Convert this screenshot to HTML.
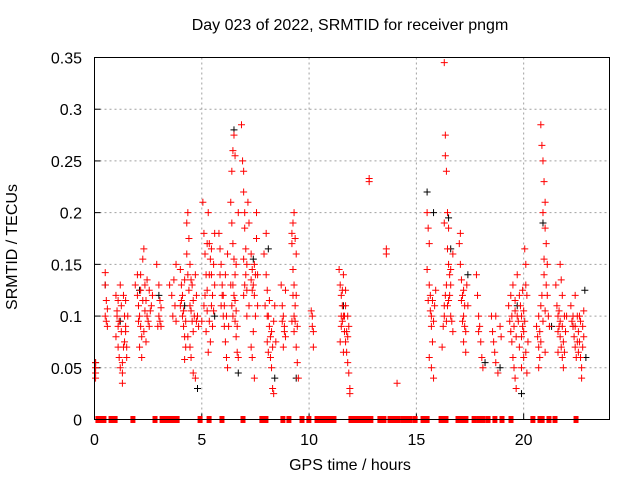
<!DOCTYPE html>
<html><head><meta charset="utf-8"><style>
body{margin:0;background:#fff;}
svg{display:block;font-family:"Liberation Sans",sans-serif;}
</style></head><body>
<svg id="chart" width="640" height="480" viewBox="0 0 640 480"></svg>
<script>
const xTicks=[0,5,10,15,20];
const yTicks=[0,0.05,0.1,0.15,0.2,0.25,0.3,0.35];
const yTickLabels=["0","0.05","0.1","0.15","0.2","0.25","0.3","0.35"];
const redPts=[
[0.05,0.045],[0.05,0.05],[0.05,0.055],[0.05,0.04],[0.5,0.142],[0.5,0.13],[0.5,0.1],[0.55,0.095],[0.6,0.09],[0.55,0.115],[0.6,0.107],
[1.0,0.12],[1.05,0.1],[1.1,0.09],[1.0,0.08],[1.1,0.07],[1.15,0.06],[1.2,0.05],[1.3,0.045],[1.3,0.035],[1.25,0.11],[1.35,0.12],[1.4,0.1],[1.45,0.085],[1.5,0.07],[1.5,0.06],[1.4,0.075],[1.45,0.09],[1.2,0.13],[1.1,0.115],
[1.9,0.13],[2.0,0.12],[2.05,0.11],[2.1,0.1],[2.15,0.09],[2.2,0.08],[2.1,0.07],[2.0,0.14],[2.25,0.155],[2.3,0.165],[2.35,0.13],[2.4,0.115],[2.45,0.1],[2.5,0.095],[2.3,0.085],[2.4,0.075],[2.2,0.06],[2.55,0.125],[2.6,0.105],[2.7,0.12],
[2.9,0.15],[3.0,0.13],[3.05,0.115],[3.0,0.1],[2.95,0.09],[3.1,0.108],[3.6,0.12],[3.7,0.135],[3.8,0.15],[3.75,0.11],[3.65,0.1],[3.8,0.095],[3.5,0.13],
[4.0,0.145],[4.05,0.13],[4.1,0.12],[4.1,0.1],[4.15,0.09],[4.2,0.08],[4.25,0.07],[4.0,0.11],[4.3,0.19],[4.35,0.2],[4.4,0.175],[4.3,0.16],[4.45,0.15],[4.5,0.135],[4.4,0.125],[4.5,0.105],[4.55,0.095],[4.6,0.085],[4.5,0.06],[4.6,0.045],[4.7,0.04],[4.6,0.115],[4.7,0.14],[4.75,0.12],[4.8,0.1],[4.85,0.09],[4.2,0.058],
[5.05,0.21],[5.1,0.18],[5.15,0.16],[5.2,0.14],[5.25,0.125],[5.1,0.11],[5.0,0.095],[5.3,0.2],[5.35,0.17],[5.4,0.155],[5.45,0.14],[5.5,0.12],[5.5,0.09],[5.4,0.075],[5.55,0.105],[5.6,0.13],[5.2,0.085],[5.3,0.065],[5.6,0.18],
[5.8,0.18],[5.85,0.165],[5.9,0.15],[5.95,0.13],[6.0,0.12],[5.9,0.11],[6.0,0.1],[6.05,0.09],[6.1,0.075],[6.15,0.06],[6.2,0.05],[6.1,0.14],[6.2,0.16],
[6.35,0.21],[6.4,0.24],[6.45,0.26],[6.5,0.275],[6.55,0.255],[6.4,0.19],[6.45,0.17],[6.5,0.155],[6.55,0.14],[6.5,0.12],[6.6,0.105],[6.55,0.095],[6.6,0.08],[6.65,0.065],[6.7,0.06],[6.7,0.2],[6.35,0.13],[6.4,0.11],
[6.85,0.285],[6.9,0.25],[6.95,0.24],[6.95,0.22],[7.0,0.2],[7.0,0.185],[7.05,0.165],[7.1,0.15],[7.0,0.13],[6.95,0.12],[7.1,0.1],[7.15,0.21],[7.2,0.19],
[7.3,0.16],[7.35,0.145],[7.4,0.13],[7.45,0.12],[7.5,0.1],[7.4,0.085],[7.55,0.175],[7.55,0.2],[7.3,0.07],[7.35,0.06],[7.45,0.04],[7.6,0.11],[7.6,0.14],
[7.9,0.16],[8.0,0.14],[8.05,0.125],[8.1,0.1],[8.15,0.09],[8.2,0.08],[8.1,0.065],[8.2,0.06],[8.25,0.05],[8.3,0.03],[8.35,0.025],[8.0,0.18],[8.4,0.11],[8.35,0.095],[8.45,0.075],
[8.7,0.13],[8.75,0.11],[8.8,0.1],[8.85,0.09],[8.9,0.08],[8.8,0.07],[8.9,0.125],
[9.2,0.17],[9.25,0.19],[9.3,0.2],[9.35,0.175],[9.4,0.16],[9.25,0.145],[9.3,0.13],[9.35,0.11],[9.2,0.095],[9.3,0.085],[9.4,0.07],[9.45,0.055],[9.5,0.04],[9.4,0.12],
[10.1,0.105],[10.15,0.09],[10.2,0.085],[10.2,0.07],[10.15,0.1],
[11.4,0.145],[11.45,0.13],[11.5,0.12],[11.55,0.11],[11.6,0.1],[11.5,0.09],[11.65,0.085],[11.7,0.075],[11.75,0.065],[11.8,0.055],[11.85,0.045],[11.9,0.03],[11.9,0.025],[11.6,0.14],[11.7,0.125],[11.8,0.1],[11.85,0.09],[11.45,0.075],
[12.8,0.23],[12.8,0.233],[13.6,0.16],[13.6,0.165],[14.1,0.035],
[15.5,0.2],[15.55,0.185],[15.6,0.17],[15.6,0.13],[15.65,0.12],[15.7,0.1],[15.7,0.09],[15.75,0.075],[15.6,0.06],[15.7,0.05],[15.8,0.04],[15.85,0.11],[15.9,0.125],[15.5,0.145],
[16.2,0.07],[16.25,0.09],[16.3,0.1],[16.35,0.12],[16.3,0.345],[16.35,0.275],[16.35,0.255],[16.4,0.24],[16.45,0.2],[16.5,0.185],[16.45,0.165],[16.5,0.15],[16.55,0.14],[16.6,0.13],[16.5,0.115],[16.6,0.1],[16.7,0.085],[16.7,0.16],[16.3,0.19],
[17.0,0.17],[17.05,0.15],[17.1,0.135],[17.15,0.12],[17.2,0.1],[17.25,0.09],[17.3,0.085],[17.2,0.075],[17.3,0.065],[17.35,0.13],[17.4,0.11],[17.05,0.18],
[17.8,0.14],[17.85,0.12],[17.9,0.1],[17.95,0.09],[18.0,0.075],[18.05,0.06],[18.1,0.05],[17.9,0.085],
[18.5,0.1],[18.55,0.085],[18.6,0.075],[18.65,0.065],[18.7,0.055],[18.8,0.045],[18.9,0.09],[18.95,0.08],[18.7,0.1],
[19.3,0.11],[19.35,0.095],[19.4,0.085],[19.45,0.075],[19.5,0.06],[19.55,0.05],[19.6,0.04],[19.65,0.03],[19.5,0.13],[19.6,0.115],[19.7,0.1],[19.7,0.14],[19.4,0.12],
[19.85,0.11],[19.9,0.1],[19.95,0.09],[20.0,0.085],[20.05,0.165],[20.1,0.15],[20.1,0.13],[20.15,0.12],[20.2,0.075],[20.0,0.06],[19.9,0.05],[20.15,0.045],[19.95,0.125],
[20.6,0.09],[20.65,0.08],[20.7,0.07],[20.75,0.06],[20.7,0.05],[20.8,0.285],[20.85,0.265],[20.9,0.25],[20.95,0.23],[21.0,0.21],[21.0,0.185],[21.05,0.17],[21.1,0.15],[20.95,0.14],[21.1,0.12],[20.8,0.11],[21.15,0.1],[21.2,0.09],[20.9,0.2],[21.0,0.065],[20.85,0.12],
[21.5,0.13],[21.55,0.11],[21.6,0.1],[21.65,0.09],[21.7,0.08],[21.75,0.07],[21.8,0.06],[21.85,0.05],[21.7,0.15],[21.75,0.135],[21.8,0.12],[21.9,0.1],[21.95,0.085],[21.6,0.065],
[22.2,0.11],[22.25,0.095],[22.3,0.09],[22.35,0.08],[22.4,0.07],[22.45,0.06],[22.5,0.1],[22.55,0.085],[22.6,0.075],[22.65,0.06],[22.7,0.05],[22.7,0.04],[22.75,0.09],[22.8,0.08],[22.4,0.12],[22.8,0.105],[22.6,0.1],
[1.05,0.105],[1.15,0.095],[1.25,0.085],[1.35,0.07],[1.45,0.115],[1.55,0.1],[1.3,0.055],[2.05,0.095],[2.15,0.125],[2.25,0.115],[2.35,0.105],[2.45,0.135],[2.55,0.09],[2.65,0.11],[2.15,0.14],[3.05,0.095],[3.1,0.09],
[4.05,0.115],[4.15,0.105],[4.25,0.095],[4.35,0.14],[4.45,0.11],[4.55,0.13],[4.65,0.1],[4.35,0.08],[4.45,0.07],[4.2,0.135],[4.75,0.095],[5.15,0.12],[5.25,0.105],[5.35,0.095],[5.45,0.11],[5.55,0.15],[5.35,0.14],[5.25,0.17],[5.45,0.165],
[5.85,0.14],[5.95,0.12],[6.05,0.11],[6.15,0.1],[6.25,0.09],[6.45,0.13],[6.55,0.115],[6.65,0.09],[6.6,0.15],[6.45,0.1],[6.95,0.155],[7.05,0.14],[7.1,0.125],[7.2,0.11],[7.3,0.135],[7.35,0.125],[7.45,0.15],[7.5,0.14],
[7.95,0.11],[8.05,0.1],[8.15,0.115],[8.25,0.085],[8.3,0.07],[8.05,0.075],[8.75,0.095],[8.85,0.085],[9.3,0.1],[9.25,0.12],[9.35,0.095],[9.45,0.09],[9.2,0.18],
[11.5,0.1],[11.55,0.095],[11.65,0.1],[11.7,0.11],[11.75,0.085],[11.8,0.08],[11.55,0.125],[11.6,0.065],
[15.65,0.105],[15.75,0.115],[15.8,0.095],[15.55,0.115],[16.3,0.11],[16.4,0.13],[16.45,0.11],[16.55,0.12],[16.6,0.145],[16.65,0.095],[16.4,0.095],[17.1,0.115],[17.2,0.125],[17.25,0.11],[17.15,0.095],
[19.45,0.1],[19.55,0.09],[19.6,0.105],[19.65,0.08],[19.75,0.095],[19.8,0.07],[19.9,0.08],[20.0,0.105],[20.05,0.095],[20.1,0.065],[19.8,0.12],
[20.7,0.1],[20.75,0.085],[20.8,0.075],[20.9,0.095],[21.0,0.105],[21.05,0.13],[20.95,0.155],
[21.6,0.085],[21.65,0.105],[21.7,0.095],[21.8,0.09],[21.85,0.075],[21.9,0.065],[22.0,0.1],[22.3,0.1],[22.4,0.09],[22.5,0.075],[22.55,0.065],[22.65,0.095],[22.75,0.07]
];
const blackPts=[
[0.05,0.055],[0.5,0.13],[1.2,0.095],[2.1,0.125],[3.0,0.12],[4.2,0.11],[4.8,0.03],[5.6,0.1],[6.5,0.28],[6.7,0.045],[7.4,0.155],[8.1,0.165],[8.4,0.04],[9.4,0.04],[11.6,0.11],[15.5,0.22],[15.8,0.2],[16.5,0.195],[16.6,0.165],[17.4,0.14],[18.2,0.055],[18.9,0.05],[19.7,0.11],[19.9,0.025],[20.9,0.19],[21.3,0.09],[22.3,0.09],[22.85,0.125],[22.9,0.06]
];
const zeroX=[0.16,0.30,0.44,0.77,0.96,1.79,2.82,3.15,3.33,3.52,3.66,3.85,4.92,5.34,5.94,6.92,7.80,7.99,8.78,9.06,9.67,9.99,10.37,10.6,10.79,10.98,11.16,11.95,12.14,12.32,12.51,12.7,12.88,13.3,13.49,13.77,13.95,14.14,14.37,14.56,14.7,14.94,15.31,15.5,16.15,16.38,16.94,17.13,17.31,17.69,17.92,18.1,18.34,18.66,18.99,19.41,20.43,20.76,20.86,21.18,21.46,22.44];
const svg=document.getElementById('chart');
const NS='http://www.w3.org/2000/svg';
const L=94.5,R=609.5,T=57.5,B=419.5;
const xS=v=>L+v/24*(R-L);
const yS=v=>B-v/0.35*(B-T);
function mk(tag,a){const e=document.createElementNS(NS,tag);for(const k in a)e.setAttribute(k,a[k]);svg.appendChild(e);return e;}
xTicks.forEach(t=>{if(t>0){const g=mk('line',{x1:xS(t),x2:xS(t),y1:T,y2:B,stroke:'#a0a0a0','stroke-dasharray':'2,3','stroke-width':1});

}
const tl=mk('line',{x1:xS(t),x2:xS(t),y1:B,y2:B-6,stroke:'#000'});


const tx=mk('text',{x:xS(t),y:445,'text-anchor':'middle','font-size':16,fill:'#000'});tx.textContent=t;

});
yTicks.forEach((t,i)=>{if(t>0&&t<0.35){const g=mk('line',{x1:L,x2:R,y1:yS(t),y2:yS(t),stroke:'#a0a0a0','stroke-dasharray':'2,3','stroke-width':1});

}
const tl=mk('line',{x1:L,x2:L+6,y1:yS(t),y2:yS(t),stroke:'#000'});


const tx=mk('text',{x:82,y:yS(t)+6,'text-anchor':'end','font-size':16,fill:'#000'});tx.textContent=yTickLabels[i];

});
function plus(x,y,c,name){const p=mk('path',{d:`M${x-3.5},${y}H${x+3.5}M${x},${y-3.5}V${y+3.5}`,stroke:c,'stroke-width':1,fill:'none'});

}
blackPts.forEach(p=>plus(xS(p[0]),yS(p[1]),'#000','black-point'));
redPts.forEach(p=>plus(xS(p[0]),yS(p[1]),'#f00','red-point'));
zeroX.forEach(v=>{const r=mk('rect',{x:xS(v)-2.5,y:B-3.5,width:5,height:7,fill:'#f00'});

});
const fr=mk('rect',{x:L,y:T,width:R-L,height:B-T,fill:'none',stroke:'#000','stroke-width':1});


</script>
<div style="position:absolute;left:0;top:0;width:640px;">
<div style="position:absolute;top:17px;left:0;width:700px;text-align:center;font:16px 'Liberation Sans',sans-serif;">Day 023 of 2022, SRMTID for receiver pngm</div>
<div style="position:absolute;top:457px;left:0;width:700px;text-align:center;font:16px 'Liberation Sans',sans-serif;">GPS time / hours</div>
<div style="position:absolute;top:238px;left:-62px;width:150px;text-align:center;font:16px 'Liberation Sans',sans-serif;transform:rotate(-90deg);">SRMTID / TECUs</div>
</div>
</body></html>
